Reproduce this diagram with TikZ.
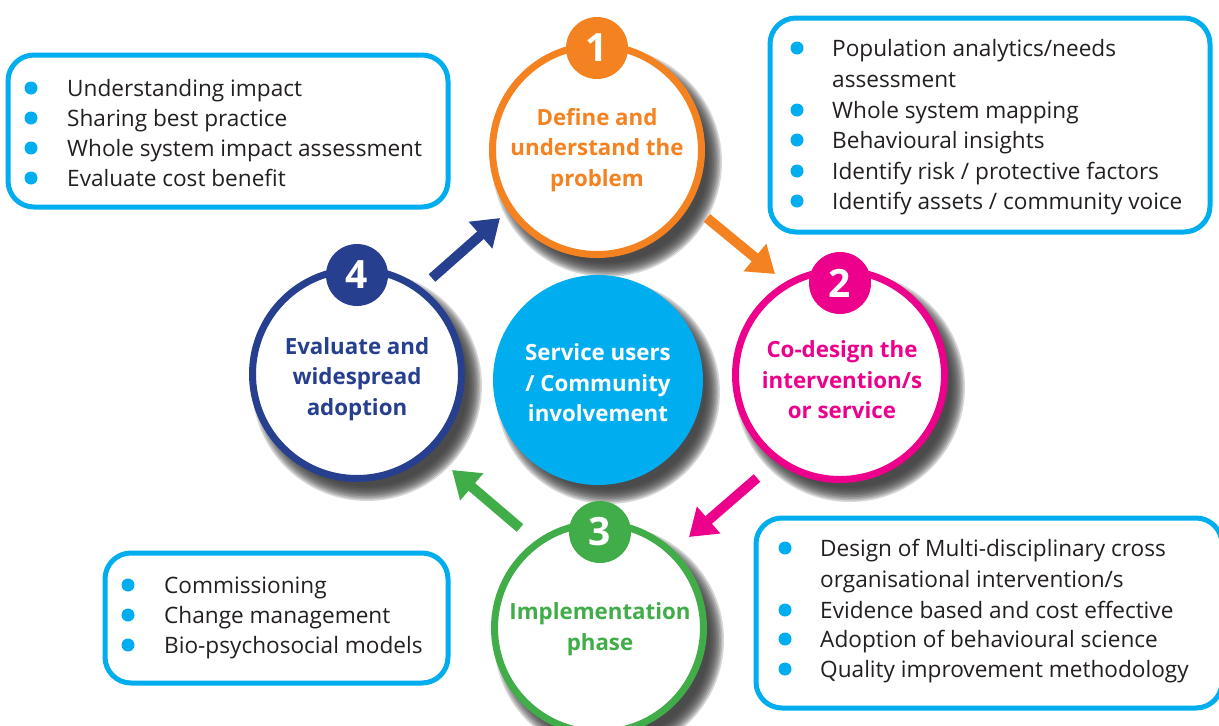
\documentclass[tikz,border=0pt]{standalone}
\usepackage{fontspec}
\setmainfont{Open Sans}
\usetikzlibrary{arrows.meta}
\definecolor{corange}{RGB}{245,130,32}
\definecolor{cpink}{RGB}{236,0,140}
\definecolor{cgreen}{RGB}{64,173,73}
\definecolor{cnavy}{RGB}{38,63,142}
\definecolor{ccyan}{RGB}{0,174,239}
\definecolor{ctext}{RGB}{35,31,32}
\definecolor{cshadow}{RGB}{55,55,55}
\tikzset{
 listbox/.style={draw=ccyan, line width=5pt, rounded corners=26pt},
 bul/.style={circle, fill=ccyan, inner sep=0pt, minimum size=13pt},
 item/.style={anchor=base west, inner sep=0pt, font=\fontsize{22.6}{26}\selectfont, text=ctext},
 ring/.style={circle, draw=#1, line width=7pt, fill=white, minimum size=209pt, inner sep=0pt},
 badge/.style={circle, fill=#1, minimum size=62pt, inner sep=0pt, text=white, font=\bfseries\fontsize{39}{40}\selectfont},
 ctitle/.style={text=#1, font=\bfseries\fontsize{22.3}{30.5}\selectfont, align=center, inner sep=0pt},
 conn/.style={draw=#1, line width=10pt, -{Triangle[length=26pt,width=34pt]}},
 shd/.style={fill=cshadow, opacity=0.2},
}
\newcommand{\softshadow}[3]{%
  \foreach \k in {0,...,9}{\fill[shd] (#1+10,#2+12) circle ({#3+7-1.6*\k});}}
\begin{document}
\begin{tikzpicture}[x=1pt,y=-1pt]
\useasboundingbox (0,0) rectangle (1219,726);
\fill[white] (0,0) rectangle (1219,726);

% shadows
\softshadow{597}{150}{108}
\softshadow{357}{374}{108}
\softshadow{598}{380}{105}
\softshadow{840}{375}{108}
\softshadow{599}{628}{108}

% list boxes
\draw[listbox] (8,55) rectangle (448,207);
\draw[listbox] (770,18) rectangle (1210,232);
\draw[listbox] (105,553) rectangle (448,683);
\draw[listbox] (756,518) rectangle (1222,708);

% top-left list
\node[bul] (b1a) at (31,88) {};
\node[item] (t1a) at (67,96) {Understanding impact};
\node[bul] (b1b) at (31,118) {};
\node[item] (t1b) at (67,126) {Sharing best practice};
\node[bul] (b1c) at (31,148) {};
\node[item] (t1c) at (67,156) {Whole system impact assessment};
\node[bul] (b1d) at (31,178) {};
\node[item] (t1d) at (67,186) {Evaluate cost benefit};

% top-right list
\node[bul] (b2a) at (797,48) {};
\node[item] (t2a) at (832,56) {Population analytics/needs};
\node[item] (t2a2) at (832,87) {assessment};
\node[bul] (b2b) at (797,110) {};
\node[item] (t2b) at (832,118) {Whole system mapping};
\node[bul] (b2c) at (797,140) {};
\node[item] (t2c) at (832,148) {Behavioural insights};
\node[bul] (b2d) at (797,171) {};
\node[item] (t2d) at (832,179) {Identify risk / protective factors};
\node[bul] (b2e) at (797,201) {};
\node[item] (t2e) at (832,209) {Identify assets / community voice};

% bottom-left list
\node[bul] (b3a) at (128,585) {};
\node[item] (t3a) at (164,593) {Commissioning};
\node[bul] (b3b) at (128,615) {};
\node[item] (t3b) at (164,623) {Change management};
\node[bul] (b3c) at (128,645) {};
\node[item] (t3c) at (164,653) {Bio-psychosocial models};

% bottom-right list
\node[bul] (b4a) at (785,548) {};
\node[item] (t4a) at (820,556) {Design of Multi-disciplinary cross};
\node[item] (t4a2) at (820,587) {organisational intervention/s};
\node[bul] (b4b) at (785,610) {};
\node[item] (t4b) at (820,618) {Evidence based and cost effective};
\node[bul] (b4c) at (785,639) {};
\node[item] (t4c) at (820,647) {Adoption of behavioural science};
\node[bul] (b4d) at (785,669) {};
\node[item] (t4d) at (820,677) {Quality improvement methodology};

% circles
\node[ring=corange] (c1) at (597,150) {};
\node[ring=cpink] (c2) at (840,375) {};
\node[ring=cgreen] (c3) at (599,628) {};
\node[ring=cnavy] (c4) at (357,374) {};
\node[circle, fill=ccyan, minimum size=210pt, inner sep=0pt] (c0) at (598,380) {};

\node[badge=corange] (n1) at (597,48) {1};
\node[badge=cpink] (n2) at (840,283) {2};
\node[badge=cgreen] (n3) at (600,532) {3};
\node[badge=cnavy] (n4) at (357,275) {4};

\node[ctitle=corange] (l1) at (597,150) {Define and\\understand the\\problem};
\node[ctitle=cpink] (l2) at (842,380) {Co-design the\\intervention/s\\or service};
\node[ctitle=cgreen] (l3) at (600,629) {Implementation\\phase};
\node[ctitle=cnavy] (l4) at (357,379) {Evaluate and\\widespread\\adoption};
\node[ctitle=white] (l0) at (598,383) {Service users\\/ Community\\involvement};

% connectors
\coordinate (a1s) at (707,218);
\coordinate (a1e) at (775,274);
\coordinate (a2s) at (757,478);
\coordinate (a2e) at (689,537);
\coordinate (a3s) at (520,528);
\coordinate (a3e) at (452,470);
\coordinate (a4s) at (432,278);
\coordinate (a4e) at (500,218);
\draw[conn=corange] (a1s) -- (a1e);
\draw[conn=cpink] (a2s) -- (a2e);
\draw[conn=cgreen] (a3s) -- (a3e);
\draw[conn=cnavy] (a4s) -- (a4e);
\end{tikzpicture}
\end{document}
